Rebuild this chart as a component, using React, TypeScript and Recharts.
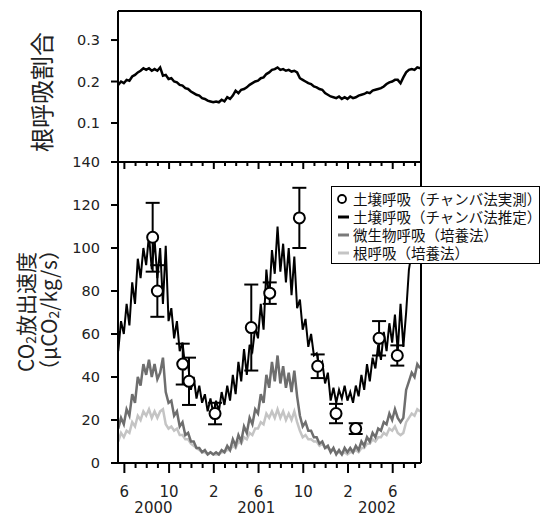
import React from 'react';
import { ComposedChart, Line, Scatter, ErrorBar, XAxis, YAxis, Legend } from 'recharts';

// time axis: months counted from Jan 2000 (0 = Jan 2000)
const T0 = 4.45;
const STEP = 0.25;
const X_DOMAIN: [number, number] = [4.43, 31.53];

const rootRatio = [
  0.192, 0.2, 0.196, 0.204, 0.202, 0.212, 0.216, 0.222, 0.226, 0.232,
  0.228, 0.232, 0.226, 0.23, 0.226, 0.234, 0.214, 0.216, 0.206, 0.208,
  0.2, 0.198, 0.192, 0.19, 0.184, 0.182, 0.176, 0.172, 0.168, 0.166,
  0.16, 0.158, 0.154, 0.152, 0.15, 0.152, 0.15, 0.156, 0.152, 0.162,
  0.158, 0.166, 0.178, 0.172, 0.18, 0.182, 0.186, 0.192, 0.196, 0.2,
  0.202, 0.208, 0.21, 0.218, 0.222, 0.228, 0.23, 0.234, 0.228, 0.23,
  0.226, 0.228, 0.224, 0.226, 0.222, 0.208, 0.204, 0.2, 0.196, 0.194,
  0.188, 0.186, 0.182, 0.18, 0.172, 0.168, 0.164, 0.162, 0.16, 0.164,
  0.158, 0.162, 0.158, 0.164, 0.16, 0.162, 0.166, 0.168, 0.17, 0.174,
  0.172, 0.178, 0.18, 0.182, 0.184, 0.188, 0.194, 0.198, 0.2, 0.204,
  0.204, 0.196, 0.21, 0.222, 0.228, 0.23, 0.228, 0.234, 0.232,
];

const soilEst = [
  52, 66, 60, 74, 64, 84, 74, 95, 86, 100,
  92, 106, 90, 104, 86, 100, 74, 101, 66, 72,
  58, 66, 52, 56, 44, 46, 34, 40, 30, 36,
  28, 32, 24, 30, 23, 29, 24, 33, 27, 36,
  29, 41, 32, 47, 38, 53, 41, 55, 52, 63,
  58, 74, 62, 90, 76, 99, 88, 110, 89, 102,
  84, 100, 78, 96, 72, 76, 62, 67, 54, 60,
  50, 51, 45, 47, 37, 42, 29, 35, 28, 34,
  30, 36, 29, 33, 28, 36, 31, 41, 34, 46,
  38, 49, 44, 55, 48, 61, 52, 65, 56, 69,
  52, 74, 54, 70, 90, 98, 104, 100, 108,
];

const microbe = [
  16, 21, 18, 25, 22, 32, 28, 40, 36, 46,
  41, 48, 40, 46, 39, 42, 49, 33, 28, 29,
  22, 24, 17, 19, 13, 14, 10, 10, 7, 7,
  5, 6, 4, 5, 4, 5, 4, 6, 5, 8,
  6, 11, 8, 13, 10, 17, 14, 21, 18, 25,
  23, 32, 28, 41, 35, 47, 38, 50, 37, 45,
  35, 42, 33, 43, 31, 22, 17, 19, 15, 15,
  12, 12, 9, 10, 7, 8, 5, 7, 4, 6,
  4, 7, 5, 7, 5, 8, 6, 10, 8, 12,
  10, 14, 12, 16, 15, 19, 18, 23, 20, 25,
  21, 19, 21, 34, 38, 42, 40, 46, 44,
];

const rootResp = [
  10, 14, 12, 15, 14, 19, 17, 22, 20, 24,
  22, 25, 21, 24, 21, 24, 25, 18, 16, 17,
  15, 16, 13, 13, 11, 11, 9, 8, 7, 6,
  5, 5, 4, 5, 4, 4, 4, 5, 5, 6,
  6, 8, 7, 10, 9, 12, 11, 14, 13, 16,
  16, 19, 18, 23, 21, 24, 21, 25, 21, 24,
  20, 23, 20, 24, 19, 15, 12, 13, 11, 11,
  10, 10, 8, 9, 7, 7, 6, 6, 5, 5,
  4, 5, 4, 5, 5, 6, 5, 7, 7, 9,
  9, 11, 10, 12, 12, 14, 13, 16, 15, 17,
  14, 13, 14, 19, 21, 23, 22, 25, 24,
];

// chamber measurements
const obsMonth = [7.53, 7.95, 10.22, 10.78, 13.11, 16.35, 18.0, 20.65, 22.29, 23.93, 25.69, 27.78, 29.41];
const obsValue = [105, 80, 46, 38, 23, 63, 79, 114, 45, 23, 16, 58, 50];
const obsErr = [16, 12, 9.5, 11, 5, 20, 5, 14, 5.5, 4.5, 2.5, 8, 4.7];

const monthTicks = [5, 6, 7, 8, 9, 10, 11, 12, 13, 14, 15, 16, 17, 18, 19, 20, 21, 22, 23, 24, 25, 26, 27, 28, 29, 30, 31];
const majorTicks = [5, 9, 13, 17, 21, 25, 29];
const yearPos = [7.6, 16.8, 27.6];
const yearLabels = ['2000', '2001', '2002'];
const ratioTicks = [0.1, 0.2, 0.3];
const fluxTicks = [0, 20, 40, 60, 80, 100, 120, 140];

const legendItems = [
  { label: '土壌呼吸（チャンバ法実測）', kind: 'circle', color: '#000' },
  { label: '土壌呼吸（チャンバ法推定）', kind: 'line', color: '#000' },
  { label: '微生物呼吸（培養法）', kind: 'line', color: '#7a7a7a' },
  { label: '根呼吸（培養法）', kind: 'line', color: '#c4c4c4' },
];

const topData = rootRatio.map((r, i) => ({ t: T0 + i * STEP, ratio: r }));
const fluxData = soilEst.map((s, i) => ({ t: T0 + i * STEP, soil: s, microbe: microbe[i], root: rootResp[i] }));
const obsData = obsMonth.map((t, i) => ({ t, v: obsValue[i], err: obsErr[i] }));

const NUM_FONT = '"DejaVu Sans", sans-serif';
const JP_FONT = '"Noto Sans CJK JP", sans-serif';

const monthLabel = (t: number) => String((t % 12) + 1);

const BottomMonthTick = (props: any) => {
  const { x, y, payload } = props;
  const major = majorTicks.includes(payload.value);
  return (
    <g>
      <line x1={x} x2={x} y1={y} y2={y + (major ? 10 : 5)} stroke="#000" strokeWidth={2} />
      {major && (
        <text x={x} y={y + 34} textAnchor="middle" fontSize={15} fontFamily={NUM_FONT} fill="#222">
          {monthLabel(payload.value)}
        </text>
      )}
    </g>
  );
};

const TopMonthTick = (props: any) => {
  const { x, y, payload } = props;
  const major = majorTicks.includes(payload.value);
  return <line x1={x} x2={x} y1={y} y2={y + (major ? 7 : 4)} stroke="#000" strokeWidth={2} />;
};

const YearTick = (props: any) => {
  const { x, y, index } = props;
  return (
    <text x={x} y={y + 20} textAnchor="middle" fontSize={15} fontFamily={NUM_FONT} fill="#222">
      {yearLabels[index]}
    </text>
  );
};

const RatioTitle = () => (
  <text x={40} y={92} transform="rotate(-90 40 92)" textAnchor="middle" dominantBaseline="central"
    fontSize={24} fontFamily={JP_FONT} fill="#222">
    根呼吸割合
  </text>
);

const FluxTitle = () => (
  <g fontFamily={JP_FONT} fill="#222" fontSize={21}>
    <text x={25} y={162} transform="rotate(-90 25 162)" textAnchor="middle" dominantBaseline="central">
      CO<tspan fontSize={14} dy={5}>2</tspan><tspan dy={-5}>放出速度</tspan>
    </text>
    <text x={48} y={160} transform="rotate(-90 48 160)" textAnchor="middle" dominantBaseline="central">
      （μCO<tspan fontSize={14} dy={5}>2</tspan><tspan dy={-5}>/kg/s）</tspan>
    </text>
  </g>
);

const LegendBox = () => (
  <div style={{
    width: 209, height: 78, boxSizing: 'border-box', border: '1px solid #000', background: '#fff',
    paddingTop: 3, fontFamily: JP_FONT, fontSize: 14.5, color: '#111', overflow: 'hidden',
  }}>
    {legendItems.map((it) => (
      <div key={it.label} style={{ display: 'flex', alignItems: 'center', height: 18 }}>
        <svg width={21} height={18} style={{ flex: 'none' }}>
          {it.kind === 'circle'
            ? <circle cx={10} cy={9} r={4} fill="#fff" stroke="#000" strokeWidth={1.8} />
            : <line x1={6} x2={17} y1={9} y2={9} stroke={it.color} strokeWidth={3} />}
        </svg>
        <span style={{ whiteSpace: 'nowrap', lineHeight: '18px' }}>{it.label}</span>
      </div>
    ))}
  </div>
);

const ObsDot = (props: any) => {
  const { cx, cy } = props;
  return <circle cx={cx} cy={cy} r={5.5} fill="#fff" stroke="#000" strokeWidth={2} />;
};

const axisLine = { stroke: '#000', strokeWidth: 2 };
const yTick = { fontSize: 14.5, fill: '#222', fontFamily: NUM_FONT };

export default function App() {
  return (
    <div style={{ position: 'absolute', left: 0, top: 0, width: 540, height: 519, background: '#fff' }}>
      <div style={{ position: 'absolute', left: 0, top: 0 }}>
        <ComposedChart width={540} height={170} data={topData} margin={{ top: 10, right: 118, bottom: 8, left: 58 }}>
          <XAxis xAxisId="x" dataKey="t" type="number" domain={X_DOMAIN} allowDataOverflow hide />
          <XAxis xAxisId="top" dataKey="t" orientation="top" type="number" domain={X_DOMAIN} allowDataOverflow
            height={1} tick={false} tickLine={false} axisLine={axisLine} />
          <YAxis yAxisId="l" type="number" domain={[0.006, 0.37]} allowDataOverflow ticks={ratioTicks}
            tickFormatter={(v: number) => v.toFixed(1)} width={60} tickSize={7} tickMargin={11}
            tick={yTick} axisLine={axisLine} tickLine={axisLine} label={<RatioTitle />} />
          <YAxis yAxisId="r" orientation="right" width={1} tick={false} tickLine={false} axisLine={axisLine} />
          <Line xAxisId="x" yAxisId="l" dataKey="ratio" type="linear" stroke="#000" strokeWidth={2.5}
            dot={false} isAnimationActive={false} />
        </ComposedChart>
      </div>
      <div style={{ position: 'absolute', left: 0, top: 150 }}>
        <ComposedChart width={540} height={369} data={fluxData} margin={{ top: 11, right: 118, bottom: 6, left: 58 }}>
          <XAxis xAxisId="m" dataKey="t" type="number" domain={X_DOMAIN} allowDataOverflow ticks={monthTicks}
            interval={0} height={30} tickSize={0} tickMargin={0} tickLine={false} axisLine={axisLine}
            tick={<BottomMonthTick />} />
          <XAxis xAxisId="yr" dataKey="t" type="number" domain={X_DOMAIN} allowDataOverflow ticks={yearPos}
            interval={0} height={20} tickSize={0} tickMargin={0} tickLine={false} axisLine={false}
            tick={<YearTick />} />
          <XAxis xAxisId="top" dataKey="t" orientation="top" type="number" domain={X_DOMAIN} allowDataOverflow
            ticks={monthTicks} interval={0} height={1} tickSize={0} tickMargin={0} tickLine={false}
            axisLine={axisLine} tick={<TopMonthTick />} />
          <YAxis yAxisId="l" type="number" domain={[0, 140]} allowDataOverflow ticks={fluxTicks} width={60}
            tickSize={7} tickMargin={11} tick={yTick} axisLine={axisLine} tickLine={axisLine}
            interval={0} label={<FluxTitle />} />
          <YAxis yAxisId="r" orientation="right" width={1} tick={false} tickLine={false} axisLine={axisLine} />
          <Line xAxisId="m" yAxisId="l" dataKey="root" type="linear" stroke="#c4c4c4" strokeWidth={2.5}
            dot={false} isAnimationActive={false} />
          <Line xAxisId="m" yAxisId="l" dataKey="microbe" type="linear" stroke="#6e6e6e" strokeWidth={2.5}
            dot={false} isAnimationActive={false} />
          <Line xAxisId="m" yAxisId="l" dataKey="soil" type="linear" stroke="#000" strokeWidth={2}
            dot={false} isAnimationActive={false} />
          <Scatter xAxisId="m" yAxisId="l" data={obsData} dataKey="v" shape={<ObsDot />} isAnimationActive={false}>
            <ErrorBar dataKey="err" direction="y" width={7} stroke="#000" strokeWidth={2} />
          </Scatter>
          <Legend layout="vertical" align="center" verticalAlign="middle" content={<LegendBox />}
            wrapperStyle={{ position: 'absolute', left: 331, top: 36, width: 209 }} />
        </ComposedChart>
      </div>
    </div>
  );
}
